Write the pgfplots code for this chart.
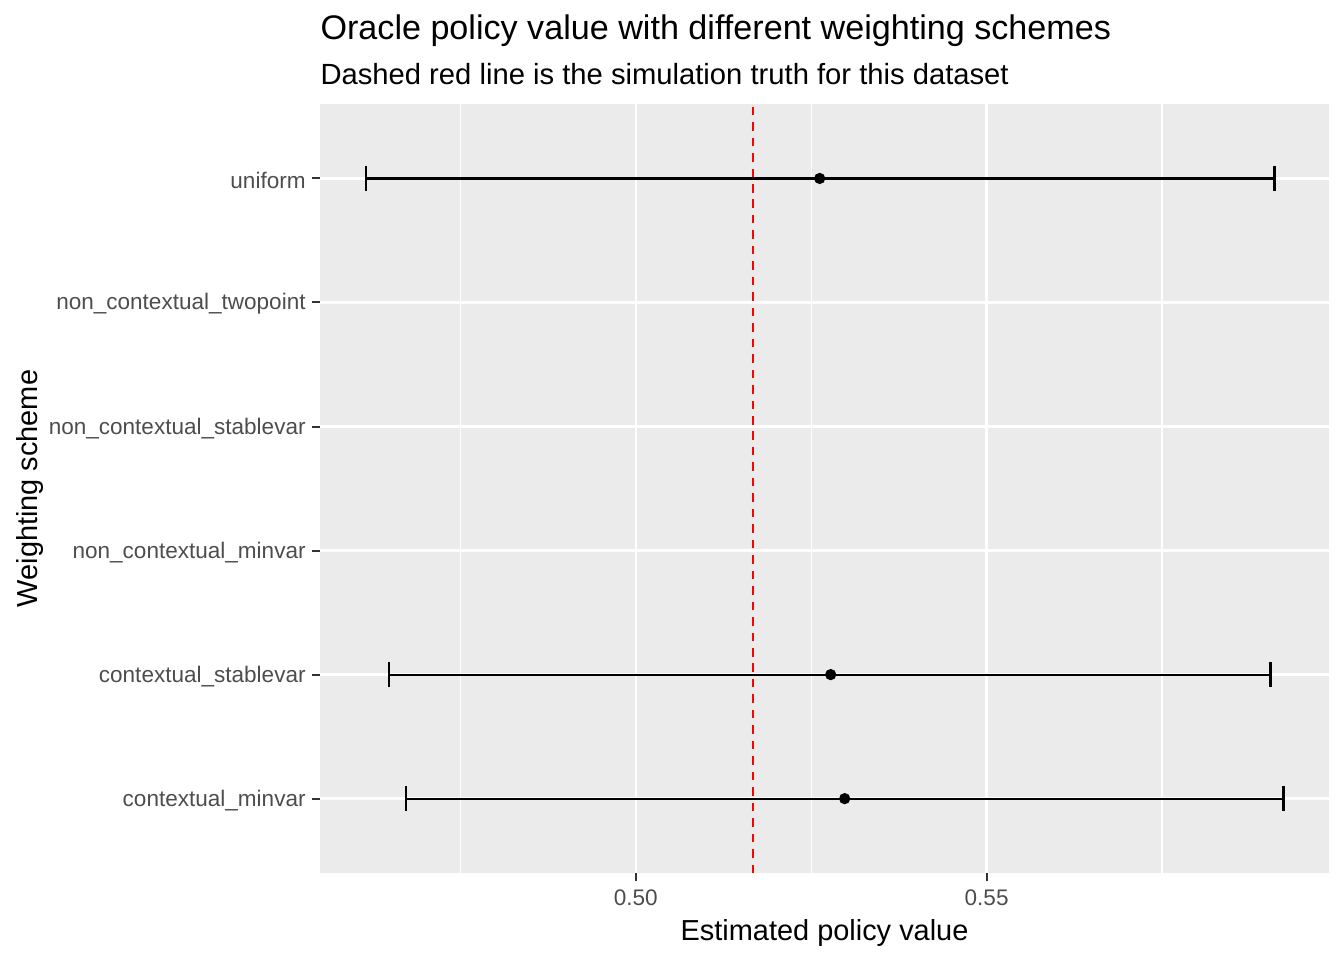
\documentclass[border=0pt]{standalone}
\usepackage{pgfplots}
\pgfplotsset{compat=1.18}
\usepackage{fontspec}
\setmainfont{Liberation Sans}
\definecolor{panelbg}{HTML}{EBEBEB}
\definecolor{gray30}{HTML}{4D4D4D}
\definecolor{gray20}{HTML}{333333}

\begin{document}
\begin{tikzpicture}
\path[use as bounding box] (0,0) rectangle (504pt,360pt);

\begin{axis}[
    at={(120pt,32.6pt)}, anchor=south west,
    scale only axis,
    width=378.4pt, height=288.4pt,
    xmin=0.4550, xmax=0.5988,
    ymin=0.4, ymax=6.6,
    axis background/.style={fill=panelbg},
    axis line style={draw=none},
    xtick={0.50,0.55},
    xticklabels={0.50,0.55},
    minor xtick={0.475,0.525,0.575},
    ytick={1,2,3,4,5,6},
    yticklabels={contextual\_minvar,contextual\_stablevar,non\_contextual\_minvar,
                 non\_contextual\_stablevar,non\_contextual\_twopoint,uniform},
    xtick pos=bottom, ytick pos=left,
    tick align=outside,
    major tick length=3pt, minor tick length=0pt,
    tick style={gray20, line width=0.75pt},
    grid=both,
    major grid style={white, line width=0.9pt},
    minor grid style={white, line width=0.45pt},
    tick label style={font=\fontsize{8.45}{10}\selectfont, text=gray30},
    xticklabel style={anchor=north, inner sep=0pt, yshift=-3pt},
    yticklabel style={anchor=east, inner sep=0pt, xshift=-2.2pt, yshift=-0.6pt},
    clip=false,
]

% simulation truth
\addplot[red, line width=0.8pt, dash pattern=on 3.2pt off 2.6pt] coordinates {(0.51667,0.4) (0.51667,6.6)};

% estimates with intervals: y, est, lo, hi
\addplot[black, only marks, mark=*, mark size=1.9pt,
    error bars/.cd, x dir=both, x explicit,
    error mark=|,
    error bar style={black, line width=0.8pt},
    error mark options={black, line width=0.8pt, mark size=4.7pt}]
    table[x=est, y=y,
          x error plus expr=\thisrow{hi}-\thisrow{est},
          x error minus expr=\thisrow{est}-\thisrow{lo}] {
    y est     lo      hi
    6 0.52621 0.46154 0.59103
    2 0.52778 0.46481 0.59046
    1 0.52977 0.46724 0.59231
};
\end{axis}

\node[anchor=base west, inner sep=0pt, font=\fontsize{12.8}{15}\selectfont] at (120pt,345pt) {Oracle policy value with different weighting schemes};
\node[anchor=base west, inner sep=0pt, font=\fontsize{10.95}{13}\selectfont] at (120pt,328.5pt) {Dashed red line is the simulation truth for this dataset};
\node[anchor=base, inner sep=0pt, font=\fontsize{10.85}{13}\selectfont] at (309.2pt,7.5pt) {Estimated policy value};
\node[anchor=base, inner sep=0pt, rotate=90, font=\fontsize{10.85}{13}\selectfont] at (13.9pt,176.8pt) {Weighting scheme};
\end{tikzpicture}
\end{document}
